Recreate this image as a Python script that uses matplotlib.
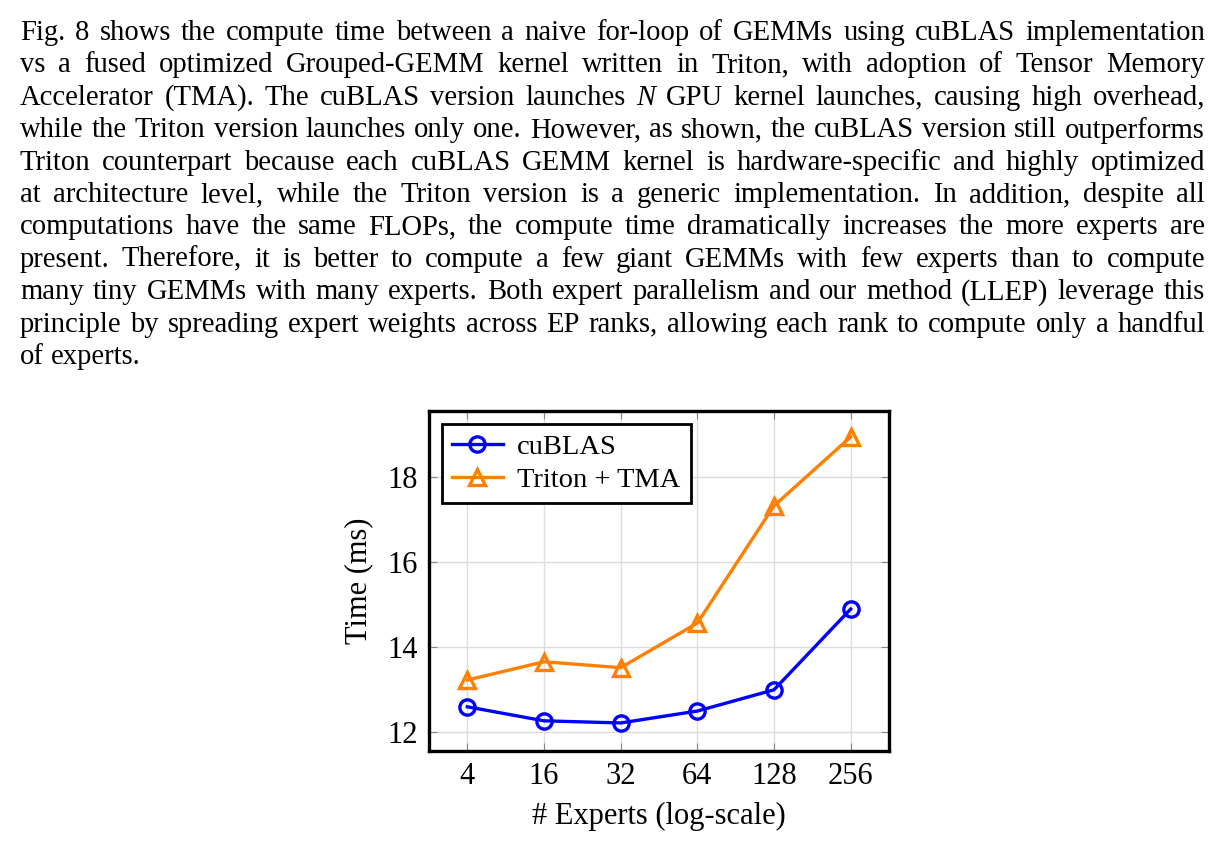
import matplotlib
matplotlib.use("Agg")
import matplotlib.pyplot as plt

plt.rcParams["font.family"] = ["Liberation Serif", "DejaVu Serif"]

experts = ["4", "16", "32", "64", "128", "256"]
cublas_ms = [12.59, 12.26, 12.21, 12.49, 12.99, 14.89]
triton_ms = [13.22, 13.65, 13.51, 14.56, 17.32, 18.94]

yticks = [12, 14, 16, 18]

paragraph = [
    "Fig. 8 shows the compute time between a naive for-loop of GEMMs using cuBLAS implementation",
    "vs a fused optimized Grouped-GEMM kernel written in Triton, with adoption of Tensor Memory",
    "Accelerator (TMA). The cuBLAS version launches *N GPU kernel launches, causing high overhead,",
    "while the Triton version launches only one. However, as shown, the cuBLAS version still outperforms",
    "Triton counterpart because each cuBLAS GEMM kernel is hardware-specific and highly optimized",
    "at architecture level, while the Triton version is a generic implementation. In addition, despite all",
    "computations have the same FLOPs, the compute time dramatically increases the more experts are",
    "present. Therefore, it is better to compute a few giant GEMMs with few experts than to compute",
    "many tiny GEMMs with many experts. Both expert parallelism and our method (LLEP) leverage this",
    "principle by spreading expert weights across EP ranks, allowing each rank to compute only a handful",
    "of experts.",
]

W, H = 1224, 849
fig = plt.figure(figsize=(W / 100, H / 100), dpi=100)
fig.patch.set_facecolor("white")
renderer = fig.canvas.get_renderer()

x_left, x_right = 20, 1205
y0, dy = 33, 32.4

# body size: the widest line just fits the column with plain spaces
widest = 0
for line in paragraph:
    probe = fig.text(0, 0, line.replace("*", ""), fontsize=10)
    widest = max(widest, probe.get_window_extent(renderer).width)
    probe.remove()
body_size = 10 * (x_right - x_left) / widest * 0.99


def justify(line, y, last):
    words = line.split(" ")
    items = []
    for w in words:
        style = "normal"
        if w.startswith("*"):
            w, style = w[1:], "italic"
        items.append(fig.text(0, y, w, fontsize=body_size, style=style,
                              va="center", ha="left"))
    widths = [t.get_window_extent(renderer).width for t in items]
    if last or len(items) == 1:
        gap = body_size * 100 / 72 * 0.25
    else:
        gap = (x_right - x_left - sum(widths)) / (len(items) - 1)
    x = x_left
    for t, wd in zip(items, widths):
        t.set_x(x / W)
        x += wd + gap


for i, line in enumerate(paragraph):
    justify(line, 1 - (y0 + i * dy) / H, i == len(paragraph) - 1)

ax = fig.add_axes([429 / W, 1 - 751 / H, 460 / W, 340 / H])
xs = list(range(len(experts)))
ax.plot(xs, cublas_ms, color="#0000FF", lw=2.4, marker="o", ms=11,
        mfc="none", mec="#0000FF", mew=2.4, label="cuBLAS")
ax.plot(xs, triton_ms, color="#FF8000", lw=2.4, marker="^", ms=11,
        mfc="none", mec="#FF8000", mew=2.4, label="Triton + TMA")

ax.set_xlim(-0.5, 5.5)
ax.set_ylim(11.55, 19.55)
ax.set_xticks(xs)
ax.set_xticklabels(experts)
ax.set_yticks(yticks)
ax.tick_params(direction="in", length=6, width=0.8, color="#888888",
               labelsize=22, pad=8, top=True, right=True)
ax.grid(True, color="#dddddd", lw=1.0)
ax.set_axisbelow(True)
for s in ax.spines.values():
    s.set_linewidth(2.4)
ax.set_xlabel("# Experts (log-scale)", fontsize=22, labelpad=8)
ax.set_ylabel("Time (ms)", fontsize=22, labelpad=10)

leg = ax.legend(loc="upper left", fontsize=20.5, frameon=True, fancybox=False,
                edgecolor="black", framealpha=1, borderaxespad=0.45,
                handlelength=1.8, handletextpad=0.5, borderpad=0.35,
                labelspacing=0.25)
leg.get_frame().set_linewidth(2.0)

fig.savefig("out.png", dpi=100)
